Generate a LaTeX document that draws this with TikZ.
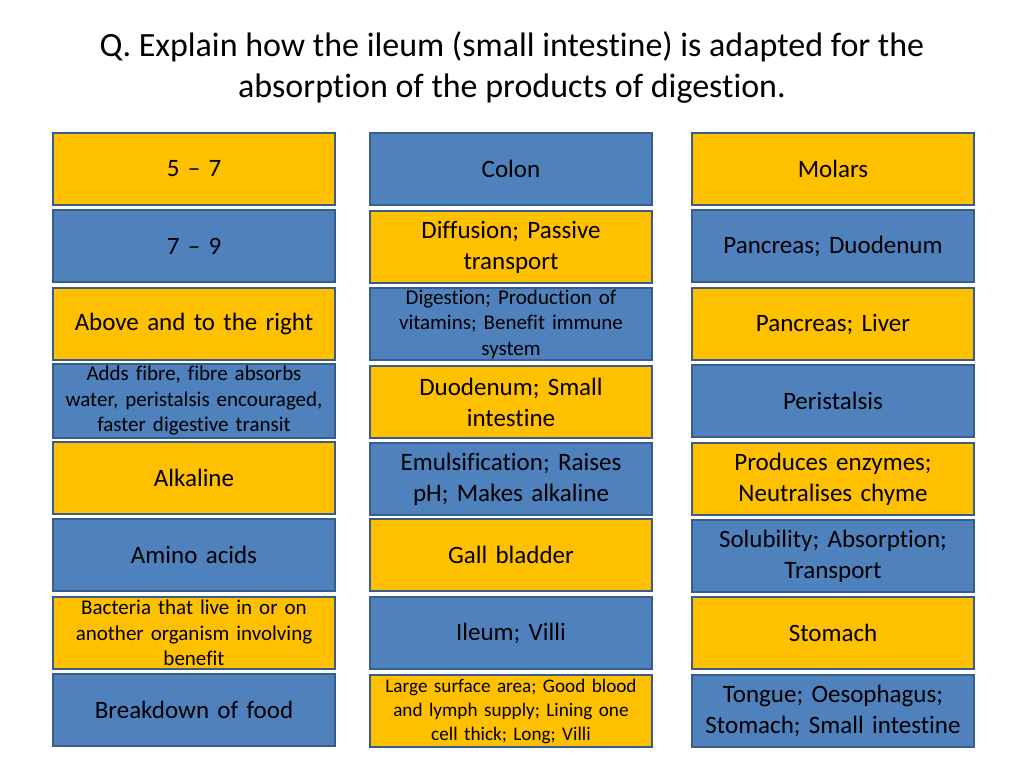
\documentclass[tikz,border=0pt]{standalone}
\usepackage{fontspec}
\setmainfont{Carlito}[Ligatures=NoCommon]
\definecolor{yel}{HTML}{FFC000}
\definecolor{blu}{HTML}{4F81BD}
\definecolor{edge}{HTML}{385D8A}
\frenchspacing
\begin{document}
\begin{tikzpicture}[x=1pt,y=-1pt,
  cell/.style={draw=edge,line width=2pt,minimum width=282pt,minimum height=72pt,inner sep=2pt,align=center,text width=278pt,font=\fontsize{25}{31}\selectfont},
  small/.style={font=\fontsize{21}{25.5}\selectfont},
  tiny/.style={font=\fontsize{19.2}{24}\selectfont},
  Y/.style={cell,fill=yel},
  B/.style={cell,fill=blu},
  ttl/.style={align=center,font=\fontsize{34}{41}\selectfont}]
\useasboundingbox (0,0) rectangle (1024,768);
\node[ttl] (title) at (512,67) {Q. Explain how the ileum (small intestine) is adapted for the\\absorption of the products of digestion.};
% left column
\node[Y] (l1) at (194,169) {5 -- 7};
\node[B] (l2) at (194,246) {7 -- 9};
\node[Y] (l3) at (194,324) {Above and to the right};
\node[B,small] (l4) at (194,401) {Adds fibre, fibre absorbs\\water, peristalsis encouraged,\\faster digestive transit};
\node[Y] (l5) at (194,478) {Alkaline};
\node[B] (l6) at (194,555) {Amino acids};
\node[Y,small] (l7) at (194,633) {Bacteria that live in or on\\another organism involving\\benefit};
\node[B] (l8) at (194,710) {Breakdown of food};
% middle column
\node[B] (m1) at (511,169) {Colon};
\node[Y] (m2) at (511,247) {Diffusion; Passive\\transport};
\node[B,small] (m3) at (511,324) {Digestion; Production of\\vitamins; Benefit immune\\system};
\node[Y] (m4) at (511,402) {Duodenum; Small\\intestine};
\node[B] (m5) at (511,479) {Emulsification; Raises\\pH; Makes alkaline};
\node[Y] (m6) at (511,555) {Gall bladder};
\node[B] (m7) at (511,633) {Ileum; Villi};
\node[Y,tiny] (m8) at (511,711) {Large surface area; Good blood\\and lymph supply; Lining one\\cell thick; Long; Villi};
% right column
\node[Y] (r1) at (833,169) {Molars};
\node[B] (r2) at (833,246) {Pancreas; Duodenum};
\node[Y] (r3) at (833,324) {Pancreas; Liver};
\node[B] (r4) at (833,401) {Peristalsis};
\node[Y] (r5) at (833,479) {Produces enzymes;\\Neutralises chyme};
\node[B] (r6) at (833,556) {Solubility; Absorption;\\Transport};
\node[Y] (r7) at (833,633) {Stomach};
\node[B] (r8) at (833,711) {Tongue; Oesophagus;\\Stomach; Small intestine};
\end{tikzpicture}
\end{document}
